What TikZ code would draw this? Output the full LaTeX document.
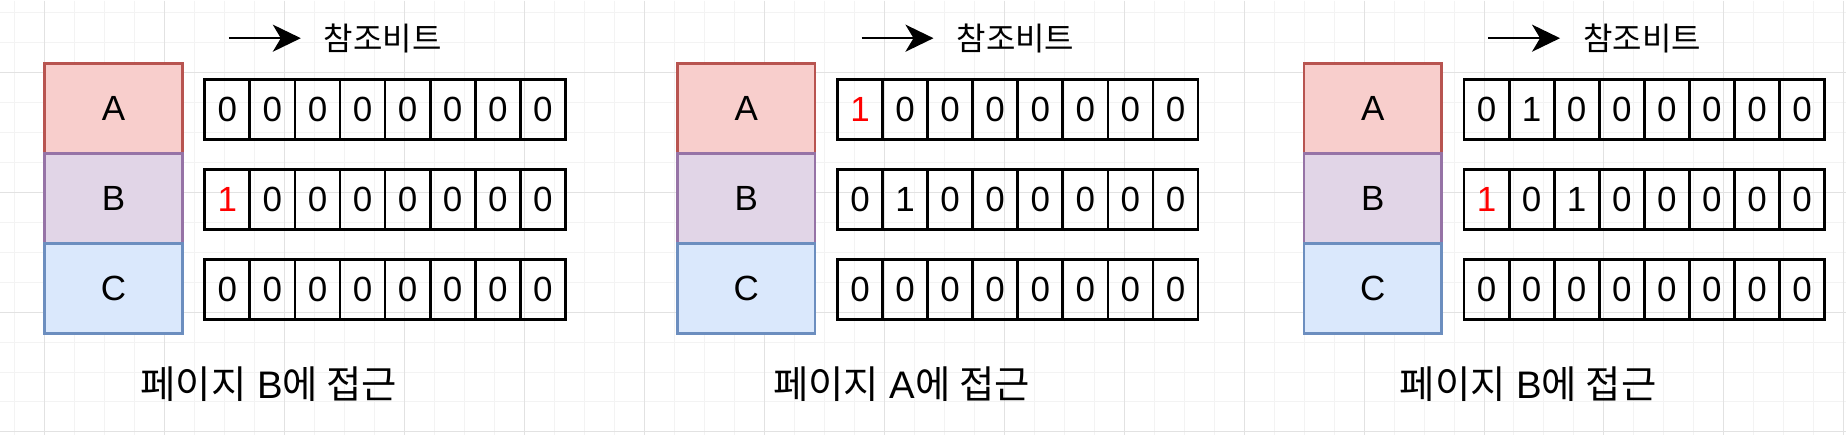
\documentclass[tikz,border=0pt]{standalone}
\usepackage{fontspec}
\setmainfont{Liberation Sans}
\newfontfamily\krfont{Noto Sans CJK KR}
\usepackage{tikz}
\usetikzlibrary{arrows.meta}
\usepackage{xcolor}
\definecolor{fillA}{HTML}{F8CECC}
\definecolor{lineA}{HTML}{B85450}
\definecolor{fillB}{HTML}{E1D5E7}
\definecolor{lineB}{HTML}{9673A6}
\definecolor{fillC}{HTML}{DAE8FC}
\definecolor{lineC}{HTML}{6C8EBF}
\definecolor{gridminor}{HTML}{F3F3F3}
\definecolor{gridmajor}{HTML}{E2E2E2}
\newcommand{\hot}{\textcolor{red}{1}}

\begin{document}
\begin{tikzpicture}[x=0.5pt, y=-0.5pt,
        pagebox/.style={draw, line width=1.3pt, minimum width=68.8pt, minimum height=45pt,
            inner sep=0pt, font=\fontsize{17.5}{20}\selectfont},
        bitcell/.style={draw=black, line width=1.4pt, minimum width=22.55pt, minimum height=30pt,
            inner sep=0pt, font=\fontsize{17.5}{20}\selectfont},
        reflabel/.style={inner sep=0pt, font=\krfont\fontsize{16}{19}\selectfont},
        caption/.style={inner sep=0pt, font=\fontsize{19.2}{22}\selectfont},
        refarrow/.style={line width=1.3pt, -{Stealth[length=14pt, width=13.5pt, inset=4pt]}}]
    % Background grid
    \fill [white] (0, 0) rectangle (1846, 435);
    \foreach \i in {0,...,61}
        \draw [gridminor, line width=0.5pt] (14.3+30*\i, 0) -- (14.3+30*\i, 435);
    \foreach \j in {0,...,14}
        \draw [gridminor, line width=0.5pt] (0, 11.7+30*\j) -- (1846, 11.7+30*\j);
    \foreach \i in {0,...,15}
        \draw [gridmajor, line width=0.5pt] (44.3+120*\i, 0) -- (44.3+120*\i, 435);
    \foreach \j in {0,...,3}
        \draw [gridmajor, line width=0.5pt] (0, 71.7+120*\j) -- (1846, 71.7+120*\j);
    \useasboundingbox (0, 0) rectangle (1846, 435);
    % One panel per access
    \foreach \px/\p/\pg/\ra/\rb/\rc in {
            44.3/1/B/{0,0,0,0,0,0,0,0}/{\hot,0,0,0,0,0,0,0}/{0,0,0,0,0,0,0,0},
            677.3/2/A/{\hot,0,0,0,0,0,0,0}/{0,1,0,0,0,0,0,0}/{0,0,0,0,0,0,0,0},
            1304.2/3/B/{0,1,0,0,0,0,0,0}/{\hot,0,1,0,0,0,0,0}/{0,0,0,0,0,0,0,0}} {
        % Pages
        \node [pagebox, fill=fillA, draw=lineA] (pgA\p) at (\px+68.8, 108.3) {A};
        \node [pagebox, fill=fillB, draw=lineB] (pgB\p) at (\px+68.8, 198.3) {B};
        \node [pagebox, fill=fillC, draw=lineC] (pgC\p) at (\px+68.8, 288.3) {C};
        % Reference bits
        \foreach \b [count=\i] in \ra
            \node [bitcell] (bitA\p-\i) at (\px+137.55+45.1*\i, 109) {\b};
        \foreach \b [count=\i] in \rb
            \node [bitcell] (bitB\p-\i) at (\px+137.55+45.1*\i, 199) {\b};
        \foreach \b [count=\i] in \rc
            \node [bitcell] (bitC\p-\i) at (\px+137.55+45.1*\i, 289) {\b};
        % Header arrow and label
        \coordinate (arS\p) at (\px+184.2, 37.7);
        \coordinate (arE\p) at (\px+256.2, 37.7);
        \draw [refarrow] (arS\p) -- (arE\p);
        \node [reflabel] (ref\p) at (\px+338.2, 38) {참조비트};
        % Caption
        \node [caption] (cap\p) at (\px+224.2, 384) {{\krfont 페이지} \pg{\krfont 에 접근}};
    }
\end{tikzpicture}
\end{document}
